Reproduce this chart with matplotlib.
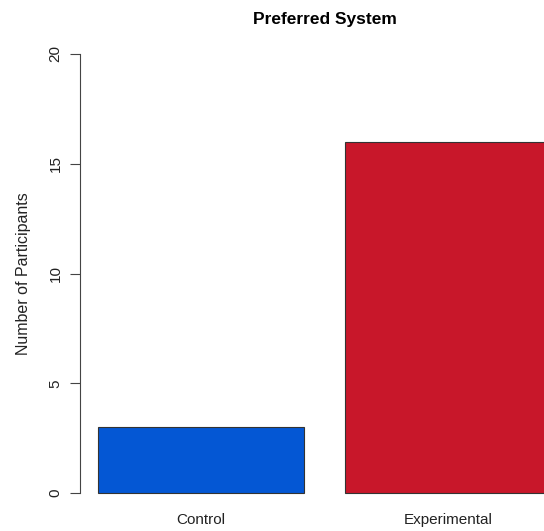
import matplotlib
matplotlib.use('Agg')
import matplotlib.pyplot as plt

# data
groups = ['Control', 'Experimental']
counts = [3, 16]
bar_colors = ['#0457d4', '#c8172a']
y_ticks = [0, 5, 10, 15, 20]

plt.rcParams['font.family'] = ['Liberation Sans', 'DejaVu Sans']

fig = plt.figure(figsize=(5.44, 5.31), dpi=100)
# plot region runs past the right edge, like the cropped R barplot
ax = fig.add_axes([80 / 544, 20.4 / 531, 489.3 / 544, 474.2 / 531])

# R barplot layout: width 1, space 0.2
lefts = [0.2 + i * 1.2 for i in range(len(counts))]
centers = [l + 0.5 for l in lefts]
ax.bar(lefts, counts, width=1.0, align='edge', color=bar_colors,
       edgecolor='#333333', linewidth=0.8)

ax.set_xlim(0.112, 2.488)
ax.set_ylim(-0.8, 20.8)

for s in ['top', 'right', 'bottom']:
    ax.spines[s].set_visible(False)
ax.spines['left'].set_bounds(0, 20)
ax.spines['left'].set_color('#444444')
ax.spines['left'].set_linewidth(0.8)

ax.set_yticks(y_ticks)
ax.set_yticklabels([str(t) for t in y_ticks], rotation=90, va='center')
ax.tick_params(axis='y', length=7, width=0.8, color='#444444', pad=5.5,
               labelsize=11, labelcolor='#222222')

ax.set_xticks(centers)
ax.set_xticklabels(groups)
ax.tick_params(axis='x', length=0, pad=2, labelsize=11, labelcolor='#222222')

ax.set_ylabel('Number of Participants', fontsize=11.5, color='#222222', labelpad=13)
ax.set_title('Preferred System', fontsize=12.5, fontweight='bold', pad=9)

fig.savefig('out.png', dpi=100)
